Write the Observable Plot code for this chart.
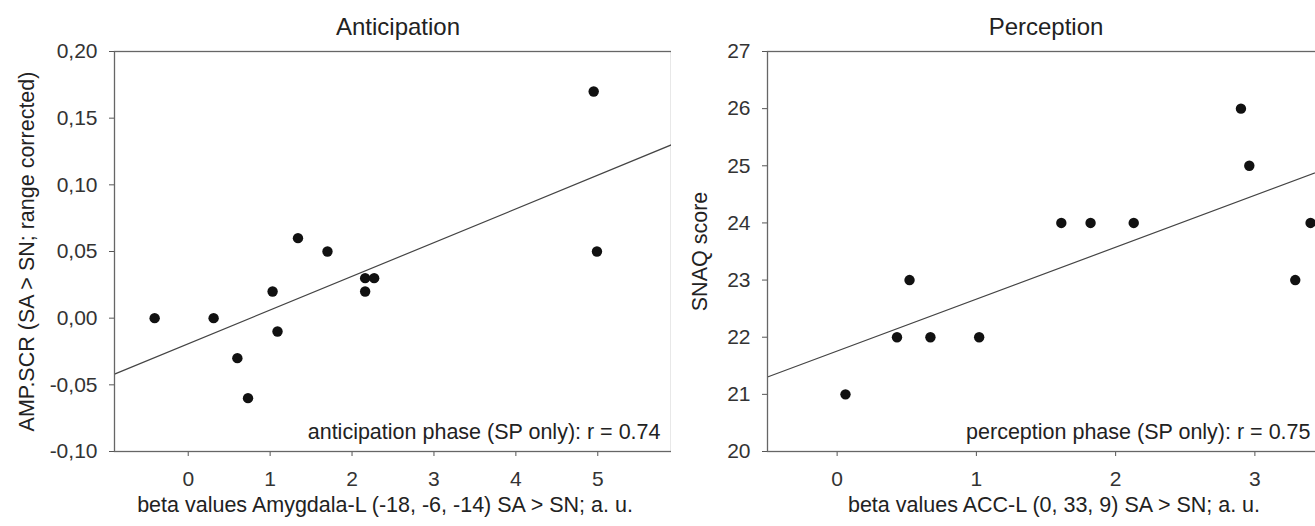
<!DOCTYPE html>
<html><head><meta charset="utf-8">
<script src="https://cdn.jsdelivr.net/npm/d3@7"></script>
<script src="https://cdn.jsdelivr.net/npm/@observablehq/plot@0.6"></script>
<style>
html,body{margin:0;padding:0;background:#fff;overflow:hidden;width:1315px;height:526px;position:relative;}
#left,#right{position:absolute;top:0;width:700px;height:526px;}
#left{left:0;} #right{left:671px;}
svg{overflow:visible;max-width:none !important;}
</style></head><body>
<div id="left"></div><div id="right"></div>
<script>
// Anticipation panel data
const antX = [-0.41, 0.31, 0.60, 0.73, 1.03, 1.09, 1.34, 1.70, 2.16, 2.16, 2.27, 4.95, 4.99];
const antY = [0.00, 0.00, -0.03, -0.06, 0.02, -0.01, 0.06, 0.05, 0.02, 0.03, 0.03, 0.17, 0.05];
// Perception panel data
const perX = [0.06, 0.43, 0.52, 0.67, 1.02, 1.61, 1.82, 2.13, 2.90, 2.96, 3.29, 3.40];
const perY = [21, 22, 23, 22, 22, 24, 24, 24, 26, 25, 23, 24];
// ticks
const antTicksX = [0, 1, 2, 3, 4, 5];
const antTicksY = [-0.10, -0.05, 0.00, 0.05, 0.10, 0.15, 0.20];
const perTicksX = [0, 1, 2, 3];
const perTicksY = [20, 21, 22, 23, 24, 25, 26, 27];
// texts
const antTitle = "Anticipation";
const perTitle = "Perception";
const antXLabel = "beta values Amygdala-L (-18, -6, -14) SA > SN; a. u.";
const perXLabel = "beta values ACC-L (0, 33, 9) SA > SN; a. u.";
const antYLabel = "AMP.SCR (SA > SN; range corrected)";
const perYLabel = "SNAQ score";
const antNote = "anticipation phase (SP only): r = 0.74";
const perNote = "perception phase (SP only): r = 0.75";

const FONT = "'Liberation Sans', Arial, Helvetica, sans-serif";

function ols(xs, ys) {
  const mx = d3.mean(xs), my = d3.mean(ys);
  let sxy = 0, sxx = 0;
  xs.forEach((x, i) => { sxy += (x - mx) * (ys[i] - my); sxx += (x - mx) ** 2; });
  const b = sxy / sxx;
  return {b, a: my - b * mx};
}

function panel(o) {
  const pts = o.xs.map((x, i) => ({x, y: o.ys[i]}));
  const {a, b} = ols(o.xs, o.ys);
  const fit = o.xDomain.map(x => ({x, y: a + b * x}));
  return Plot.plot({
    width: o.width, height: 526,
    marginLeft: o.marginLeft, marginRight: o.marginRight, marginTop: 51, marginBottom: 75,
    style: {fontFamily: FONT, fontSize: "21px", color: "#222", background: "white", maxWidth: "none"},
    x: {domain: o.xDomain},
    y: {domain: o.yDomain},
    marks: [
      Plot.axisX(o.xTicks, {tickSize: 5, tickPadding: 15, fontSize: 21, stroke: "#555", fill: "#333", label: null, tickFormat: o.xFmt}),
      Plot.axisY(o.yTicks, {tickSize: 5, tickPadding: 12, fontSize: 21, stroke: "#555", fill: "#333", label: null, tickFormat: o.yFmt}),
      Plot.line(fit, {x: "x", y: "y", stroke: "#444", strokeWidth: 1.2, clip: true}),
      Plot.dot(pts, {x: "x", y: "y", r: 5.2, fill: "#111", stroke: "none"}),
      Plot.frame({stroke: "#666", strokeWidth: 1.3}),
      Plot.text([o.title], {frameAnchor: "top", dx: o.titleDx, dy: -17, lineAnchor: "bottom", fontSize: 24, fill: "#222"}),
      Plot.text([o.xLabel], {frameAnchor: "bottom", dx: o.xLabelDx, dy: 60, lineAnchor: "bottom", fontSize: 21.5, fill: "#222"}),
      Plot.text([o.yLabel], {frameAnchor: "left", dx: o.yLabelDx, rotate: -90, lineAnchor: "middle", textAnchor: "middle", fontSize: 21.5, fill: "#222"}),
      Plot.text([o.note], {frameAnchor: "bottom-right", dx: o.noteDx, dy: -13, lineAnchor: "bottom", textAnchor: "end", fontSize: 21.5, fill: "#222"})
    ]
  });
}

const fmtComma = d => d3.format(".2f")(d).replace(".", ",").replace("\u2212", "-");
const fmtInt = d => String(d);

document.getElementById("left").append(panel({
  xs: antX, ys: antY, xDomain: [-0.9, 5.9], yDomain: [-0.10, 0.20],
  xTicks: antTicksX, yTicks: antTicksY, xFmt: fmtInt, yFmt: fmtComma,
  title: antTitle, xLabel: antXLabel, yLabel: antYLabel, note: antNote,
  width: 680, marginLeft: 114, marginRight: 9, yLabelDx: -87, titleDx: 5, xLabelDx: -8, noteDx: -11
}));

document.getElementById("right").append(panel({
  xs: perX, ys: perY, xDomain: [-0.5, 3.5], yDomain: [20, 27],
  xTicks: perTicksX, yTicks: perTicksY, xFmt: fmtInt, yFmt: fmtInt,
  title: perTitle, xLabel: perXLabel, yLabel: perYLabel, note: perNote,
  width: 665, marginLeft: 96, marginRight: 12, yLabelDx: -67, titleDx: 0, xLabelDx: 8, noteDx: -14
}));
</script>
</body></html>
